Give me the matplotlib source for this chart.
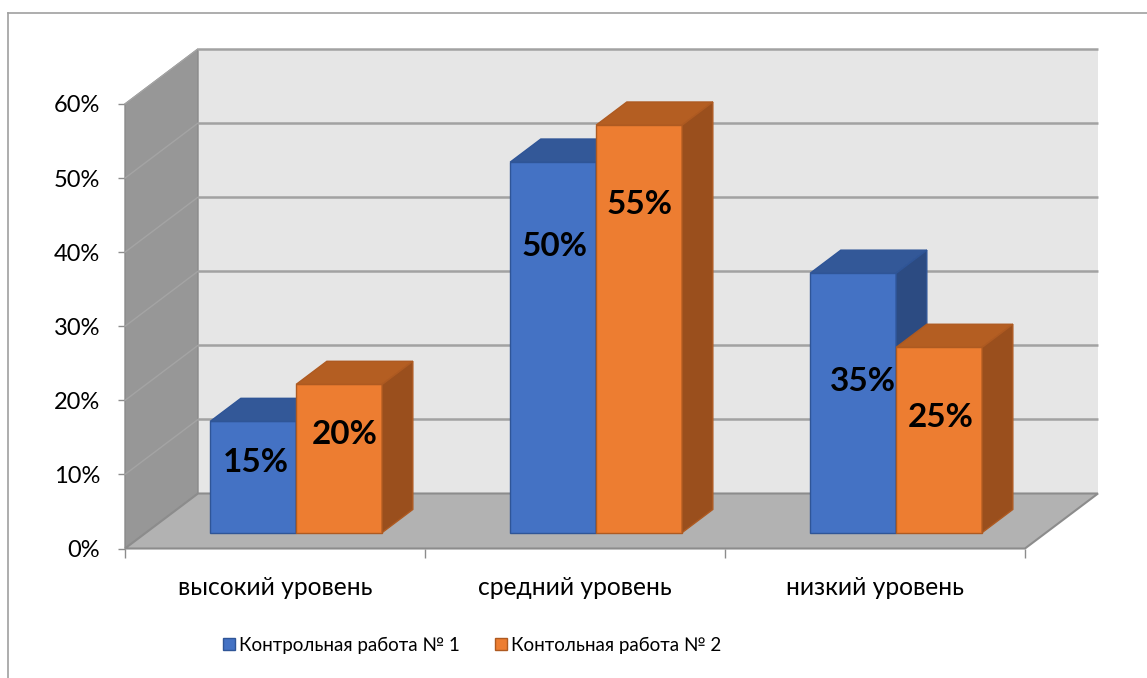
import numpy as np
import matplotlib
matplotlib.use("Agg")
import matplotlib.pyplot as plt
from matplotlib.patches import Polygon, Patch
from matplotlib.lines import Line2D

# ---- data ----
categories = ["высокий уровень", "средний уровень", "низкий уровень"]
series_names = ["Контрольная работа № 1", "Контольная работа № 2"]
work1 = [0.15, 0.50, 0.35]
work2 = [0.20, 0.55, 0.25]
yticks = [0.0, 0.1, 0.2, 0.3, 0.4, 0.5, 0.6]
ytick_labels = ["0%", "10%", "20%", "30%", "40%", "50%", "60%"]

# ---- layout / style ----
W, H = 1147, 678
DX, DY = 73 / 300, 55 / 740.8      # oblique offset for full depth, in data units
T0, T1 = 0.29, 0.71               # bar depth range
BW = 0.2867                       # bar width (category units)
# label anchor as fraction of bar height, small x nudge
label_frac = [[0.63, 0.66], [0.772, 0.805], [0.583, 0.62]]
label_dx = [[0.01, 0.017], [0.003, 0.002], [0.033, 0.005]]

front_cols = ["#4472c4", "#ed7d31"]
top_cols = ["#335898", "#b45e22"]
side_cols = ["#2c4b82", "#9a4f1d"]
edge_cols = ["#2f5597", "#ae5a21"]

plt.rcParams['font.family'] = ['Lato', 'DejaVu Sans']

fig = plt.figure(figsize=(W / 100, H / 100), dpi=100)
ax = fig.add_axes([125 / W, (H - 548.5) / H, 900 / W, 444.5 / H])
ax.set_xlim(0, 3)
ax.set_ylim(0, 0.6)
for s in ax.spines.values():
    s.set_visible(False)
ax.patch.set_alpha(0)


def P(x, v, t):
    return (x + t * DX, v + t * DY)


def poly(pts, fc, ec, lw=1.0, z=1):
    ax.add_patch(Polygon(pts, closed=True, facecolor=fc, edgecolor=ec,
                         linewidth=lw, zorder=z, clip_on=False, joinstyle='miter'))


ymax = yticks[-1]
nc = len(categories)
# back wall
poly([P(0, 0, 1), P(nc, 0, 1), P(nc, ymax, 1), P(0, ymax, 1)], "#e6e6e6", "none", z=1)
# left wall
poly([P(0, 0, 0), P(0, 0, 1), P(0, ymax, 1), P(0, ymax, 0)], "#979797", "#8a8a8a", lw=1.0, z=2)
# floor
poly([P(0, 0, 0), P(nc, 0, 0), P(nc, 0, 1), P(0, 0, 1)], "#b2b2b2", "#8c8c8c", lw=1.5, z=3)

# gridlines
for v in yticks[1:]:
    xs, ys = zip(P(0, v, 1), P(nc, v, 1))
    ax.plot(xs, ys, color="#a2a2a2", lw=1.8, zorder=2.5, clip_on=False, solid_capstyle='butt')
    xs, ys = zip(P(0, v, 0), P(0, v, 1))
    ax.plot(xs, ys, color="#a4a4a4", lw=1.0, zorder=2.5, clip_on=False)

# bars
for i in range(nc):
    for s, vals in enumerate([work1, work2]):
        v = vals[i]
        x0 = i + 0.5 - BW + s * BW
        x1 = x0 + BW
        z = 10 + i * 3 + s
        poly([P(x0, 0, T0), P(x1, 0, T0), P(x1, v, T0), P(x0, v, T0)], front_cols[s], edge_cols[s], 1.0, z)
        poly([P(x0, v, T0), P(x1, v, T0), P(x1, v, T1), P(x0, v, T1)], top_cols[s], edge_cols[s], 1.0, z)
        poly([P(x1, 0, T0), P(x1, 0, T1), P(x1, v, T1), P(x1, v, T0)], side_cols[s], edge_cols[s], 1.0, z)
        lx, ly = P((x0 + x1) / 2 + label_dx[i][s], v * label_frac[i][s], T0)
        ax.text(lx, ly, f"{round(v * 100)}%", ha="center", va="center",
                fontsize=24, fontweight="bold", color="black", zorder=30)

# axes ticks
ax.set_yticks(yticks)
ax.set_yticklabels(ytick_labels)
ax.tick_params(axis='y', length=5, width=1, color="#8c8c8c", pad=13,
               labelsize=17, labelcolor="black")
ax.set_xticks(range(nc + 1))
ax.set_xticklabels([])
ax.tick_params(axis='x', which='major', length=6.5, width=1, color="#8c8c8c")
ax.set_xticks([i + 0.5 for i in range(nc)], minor=True)
ax.set_xticklabels(categories, minor=True)
ax.tick_params(axis='x', which='minor', length=0, pad=20, labelsize=17.7, labelcolor="black")

# legend
handles = [Patch(facecolor=front_cols[k], edgecolor=edge_cols[k], label=series_names[k]) for k in range(2)]
fig.legend(handles=handles, loc="center", bbox_to_anchor=(472 / W, 1 - 645 / H), ncol=2,
           frameon=False, fontsize=13.5, handlelength=0.65, handleheight=0.65,
           handletextpad=0.2, columnspacing=1.9)

# chart border (top and left)
fig.add_artist(Line2D([8 / W, 1], [1 - 13 / H, 1 - 13 / H], color="#a0a0a0", lw=1.2, transform=fig.transFigure))
fig.add_artist(Line2D([8 / W, 8 / W], [0, 1 - 13 / H], color="#a0a0a0", lw=1.2, transform=fig.transFigure))

fig.savefig("out.png", dpi=100)
